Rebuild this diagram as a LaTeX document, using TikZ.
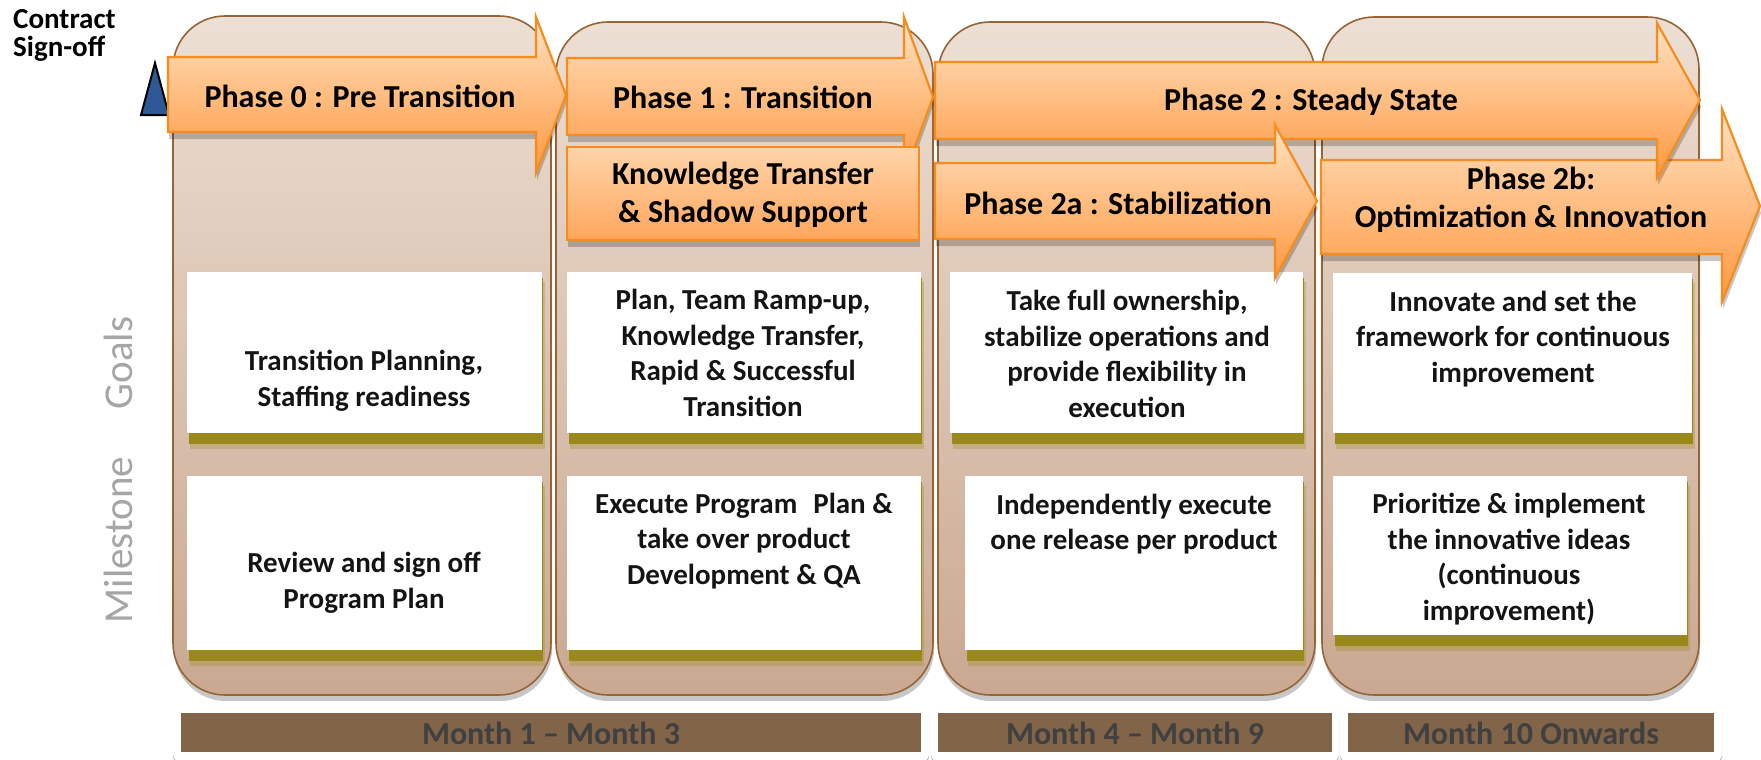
\documentclass[tikz,border=0pt]{standalone}
\usepackage{fontspec}
\setmainfont{Carlito}
\usetikzlibrary{shadows}
\definecolor{colTop}{RGB}{236,223,211}
\definecolor{colBot}{RGB}{202,168,145}
\definecolor{colEdge}{RGB}{150,100,55}
\definecolor{arrTop}{RGB}{255,226,194}
\definecolor{arrBot}{RGB}{255,152,64}
\definecolor{kTop}{RGB}{255,212,170}
\definecolor{kBot}{RGB}{255,166,92}
\definecolor{arrEdge}{RGB}{247,140,30}
\definecolor{oliveS}{RGB}{152,137,26}
\definecolor{monthBar}{RGB}{130,101,73}
\definecolor{monthTxt}{RGB}{64,64,64}
\definecolor{lblGray}{RGB}{166,166,166}
\definecolor{triBlue}{RGB}{47,88,150}
\definecolor{txtc}{RGB}{20,20,20}
\newcommand\wbox[4]{%
  \fill[oliveS, opacity=.3] ({#1+3},{#2+10}) rectangle ({#3+3},{#4+16});
  \fill[oliveS] ({#1+2},{#2+6}) rectangle ({#3+1},{#4+11});
  \fill[white] (#1,#2) rectangle (#3,#4);}
\newcommand\mpanel[8]{%
  \path[fill=white, rounded corners=8pt, drop shadow={shadow xshift=0pt, shadow yshift=-2pt, opacity=0.3, fill=black}] (#1,#2) rectangle (#3,#4);
  \fill[monthBar] (#5,#6) rectangle (#7,#8);}
\begin{document}
\begin{tikzpicture}[x=1pt,y=-1pt,
  col/.style={draw=colEdge, line width=1.6pt, rounded corners=52pt, top color=colTop, bottom color=colBot,
    drop shadow={shadow xshift=1pt, shadow yshift=-6pt, opacity=0.22, fill=black}},
  arr/.style={draw=arrEdge, line width=2.2pt, line join=miter, top color=arrTop, bottom color=arrBot,
    drop shadow={shadow xshift=1pt, shadow yshift=-7pt, opacity=0.22, fill=black}},
  kbox/.style={draw=arrEdge, line width=2.2pt, top color=kTop, bottom color=kBot,
    drop shadow={shadow xshift=1pt, shadow yshift=-7pt, opacity=0.22, fill=black}},
  ph/.style={font=\fontsize{32}{37.5}\selectfont\bfseries, align=center, inner sep=0pt, text=black},
  bt/.style={font=\fontsize{29}{35.5}\selectfont\bfseries, align=center, inner sep=0pt, text=txtc},
  mt/.style={font=\fontsize{32}{38}\selectfont\bfseries, inner sep=0pt, text=monthTxt},
  lbl/.style={font=\fontsize{41}{41}\selectfont, inner sep=0pt, text=lblGray, rotate=90}]
\useasboundingbox (0,0) rectangle (1761,760);
\fill[white] (0,0) rectangle (1761,760);

% columns
\path[col] (173,16) rectangle (551,695);
\path[col] (556,22) rectangle (933,695);
\path[col] (938,22) rectangle (1315,695);
\path[col] (1322,17) rectangle (1699,695);

% white boxes
\wbox{187}{272}{542}{433}
\wbox{187}{476}{542}{650}
\wbox{567}{272}{921}{433}
\wbox{567}{476}{921}{650}
\wbox{950}{272}{1303}{433}
\wbox{965}{476}{1303}{650}
\wbox{1333}{273}{1692}{433}
\wbox{1333}{476}{1687}{635}

% month panels
\mpanel{173}{706}{929}{762}{181}{713}{921}{752}
\mpanel{931}{706}{1339}{762}{938}{713}{1332}{752}
\mpanel{1340}{706}{1722}{762}{1348}{713}{1714}{752}

% contract sign-off triangle
\draw[fill=triBlue, line width=2pt, line join=miter] (141,115) -- (155,63) -- (169,115) -- cycle;

% arrows
\path[arr] (168,57) -- (536,57) -- (536,17) -- (566,95) -- (536,173) -- (536,132) -- (168,132) -- cycle;
\path[arr] (567,58) -- (904,58) -- (904,17) -- (933,97) -- (904,177) -- (904,135) -- (567,135) -- cycle;
\path[kbox] (567,147) rectangle (919,240);
\path[arr] (1321,160) -- (1722,160) -- (1722,109) -- (1760,206) -- (1722,302) -- (1722,254) -- (1321,254) -- cycle;
\path[arr] (935,62) -- (1657,62) -- (1657,23) -- (1700,100) -- (1657,178) -- (1657,139) -- (935,139) -- cycle;
\path[arr] (935,163) -- (1275,163) -- (1275,125) -- (1317,201) -- (1275,278) -- (1275,239) -- (935,239) -- cycle;

% texts
\node[font=\fontsize{29}{28}\selectfont\bfseries, align=left, inner sep=0pt, anchor=west] (cso) at (13,35) {Contract\\Sign-off};
\node[lbl] (goals) at (118,363) {Goals};
\node[lbl] (mile) at (118,540) {Milestone};

\node[ph] (t0) at (360,96) {Phase 0 : Pre Transition};
\node[ph] (t1) at (743,97) {Phase 1 : Transition};
\node[ph] (tk) at (743,195) {Knowledge Transfer\\\& Shadow Support};
\node[ph] (t2) at (1311,102) {Phase 2 : Steady State};
\node[ph] (t2a) at (1118,203) {Phase 2a : Stabilization};
\node[ph] (t2b) at (1531,200) {Phase 2b:\\Optimization \& Innovation};

\node[bt] (g1) at (364,381) {Transition Planning,\\Staffing readiness};
\node[bt] (m1) at (364,583) {Review and sign off\\Program Plan};
\node[bt] (g2) at (743,353) {Plan, Team Ramp-up,\\Knowledge Transfer,\\Rapid \& Successful\\Transition};
\node[bt] (m2) at (744,541) {Execute Program\hspace{16pt}Plan \&\\take over product\\Development \& QA};
\node[bt] (g3) at (1127,354) {Take full ownership,\\stabilize operations and\\provide flexibility in\\execution};
\node[bt] (m3) at (1134,524) {Independently execute\\one release per product};
\node[bt] (g4) at (1513,339) {Innovate and set the\\framework for continuous\\improvement};
\node[bt] (m4) at (1509,559) {Prioritize \& implement\\the innovative ideas\\(continuous\\improvement)};

\node[mt] (mo1) at (551,733) {Month 1 – Month 3};
\node[mt] (mo2) at (1135,733) {Month 4 – Month 9};
\node[mt] (mo3) at (1531,733) {Month 10 Onwards};
\end{tikzpicture}
\end{document}
